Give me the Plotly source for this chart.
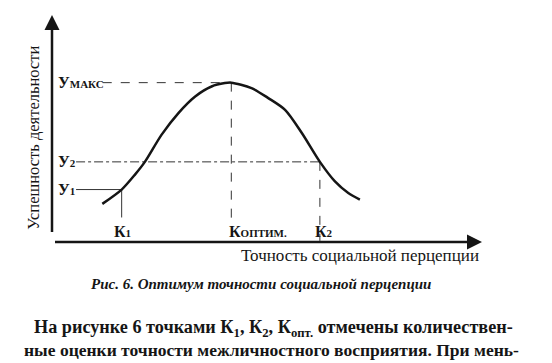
import plotly.graph_objects as go

# Curve: success of activity vs accuracy of social perception (chart units 0..100)
curve_x = [11.7, 16.2, 19.3, 21.6, 25.5, 29.4, 33.3, 37.1, 40.2, 41.7, 46.4, 50.3, 54.2, 58.1, 62.3, 65.8, 68.9, 71.6]
curve_y = [16.8, 23.1, 29.7, 35.3, 47.3, 56.8, 64.1, 68.5, 70.0, 70.2, 67.8, 63.4, 58.2, 48.0, 35.3, 26.7, 21.6, 18.7]

# Marked points: K1 -> У1, Kоптим -> Умакс, K2 -> У2
k_labels = ["К<span style='font-size:11px'>1</span>",
            "К<span style='font-size:11px'>ОПТИМ.</span>",
            "К<span style='font-size:11px'>2</span>"]
k_values = [16.2, 41.7, 62.3]
y_labels = ["У<span style='font-size:11px'>1</span>",
            "У<span style='font-size:11px'>МАКС</span>",
            "У<span style='font-size:11px'>2</span>"]
y_values = [23.1, 70.2, 35.3]

x_title = "Точность социальной перцепции"
y_title = "Успешность деятельности"
caption = "<b><i>Рис. 6. Оптимум точности социальной перцепции</i></b>"
body_lines = [
    "На рисунке 6 точками К<sub>1</sub>, К<sub>2</sub>, К<sub>опт.</sub> отмечены количествен-",
    "ные оценки точности межличностного восприятия. При мень-",
]

INK = "#151515"
SERIF = "Liberation Serif"

fig = go.Figure()

# guide lines (styles per marked point)
h_start = [5.6, 11.8, 5.6]
v_end = [10.8, 9.0, 0.5]
h_dash = ["solid", "dash", "dashdot"]
v_dash = ["solid", "dash", "dash"]
for i in range(3):
    fig.add_trace(go.Scatter(x=[h_start[i], k_values[i]], y=[y_values[i], y_values[i]],
                             mode="lines", line=dict(color="#333", width=1, dash=h_dash[i]),
                             hoverinfo="skip", showlegend=False))
    fig.add_trace(go.Scatter(x=[k_values[i], k_values[i]], y=[y_values[i], v_end[i]],
                             mode="lines", line=dict(color="#333", width=1, dash=v_dash[i]),
                             hoverinfo="skip", showlegend=False))

fig.add_trace(go.Scatter(x=curve_x, y=curve_y, mode="lines",
                         line=dict(color=INK, width=2.5, shape="spline", smoothing=0.8),
                         hoverinfo="skip", showlegend=False))

ann = []
# axes with arrows
ann.append(dict(x=100, y=0, ax=0, ay=0, xref="x", yref="y", axref="x", ayref="y",
                showarrow=True, arrowhead=2, arrowsize=1.2, arrowwidth=2.5, arrowcolor=INK, text=" "))
ann.append(dict(x=0, y=100, ax=0, ay=0, xref="x", yref="y", axref="x", ayref="y",
                showarrow=True, arrowhead=2, arrowsize=1.2, arrowwidth=2.5, arrowcolor=INK, text=" "))

label_font = dict(family=SERIF, size=16, color=INK)
for i in range(3):
    ann.append(dict(x=1.0, y=y_values[i], xref="x", yref="y", text="<b>" + y_labels[i] + "</b>",
                    showarrow=False, xanchor="left", yanchor="middle", font=label_font))
k_shift = [0.3, 6.2, 0.9]
for i in range(3):
    ann.append(dict(x=k_values[i] + k_shift[i], y=4.6, xref="x", yref="y", text="<b>" + k_labels[i] + "</b>",
                    showarrow=False, xanchor="center", yanchor="middle", font=label_font))

ann.append(dict(x=0.998, y=-0.06, xref="paper", yref="paper", text=x_title, showarrow=False,
                xanchor="right", yanchor="middle", font=dict(family=SERIF, size=17, color=INK)))
ann.append(dict(x=-0.044, y=0.46, xref="paper", yref="paper", text=y_title, showarrow=False,
                textangle=-90, xanchor="center", yanchor="middle",
                font=dict(family=SERIF, size=16.5, color=INK)))
ann.append(dict(x=(261 - 52) / 430, y=-0.187, xref="paper", yref="paper", text=caption, showarrow=False,
                xanchor="center", yanchor="middle", font=dict(family=SERIF, size=15, color=INK)))
ann.append(dict(x=(32 - 52) / 430, y=-0.38, xref="paper", yref="paper", text="<b>" + body_lines[0] + "</b>",
                showarrow=False, xanchor="left", yanchor="middle", font=dict(family=SERIF, size=18.2, color=INK)))
ann.append(dict(x=(22 - 52) / 430, y=-0.477, xref="paper", yref="paper", text="<b>" + body_lines[1] + "</b>",
                showarrow=False, xanchor="left", yanchor="middle", font=dict(family=SERIF, size=17.5, color=INK)))

fig.update_layout(
    width=552, height=363,
    margin=dict(l=52, r=70, t=15, b=120.5),
    paper_bgcolor="white", plot_bgcolor="white",
    xaxis=dict(range=[0, 100], visible=False, fixedrange=True),
    yaxis=dict(range=[0, 100], visible=False, fixedrange=True),
    annotations=ann,
    showlegend=False,
)

fig.write_html("out.html", config={"displayModeBar": False},
               post_script="document.body.style.margin='0';document.body.style.overflow='hidden';")
